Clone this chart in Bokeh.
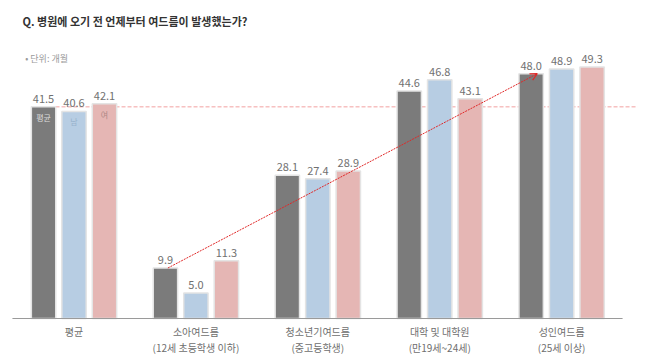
from bokeh.plotting import figure
from bokeh.models import ColumnDataSource, Label, Arrow, OpenHead
from bokeh.core.properties import value
from bokeh.embed import file_html
from bokeh.resources import INLINE

category_main = ["평균", "소아여드름", "청소년기여드름", "대학 및 대학원", "성인여드름"]
category_sub = ["", "(12세 초등학생 이하)", "(중고등학생)", "(만19세~24세)", "(25세 이상)"]
avg_vals = [41.5, 9.9, 28.1, 44.6, 48.0]
male_vals = [40.6, 5.0, 27.4, 46.8, 48.9]
female_vals = [42.1, 11.3, 28.9, 43.1, 49.3]
series_names = ["평균", "남", "여"]
overall_avg = 41.5

FONT = "Noto Sans CJK KR"
colors = ["#7b7b7b", "#b7cde3", "#e5b6b4"]
inner_colors = ["#dcdcdc", "#98b2cc", "#b08886"]

p = figure(width=650, height=357, output_backend="svg", toolbar_location=None,
           x_range=(-0.603, 4.729), y_range=(-39 / 5.1, 318 / 5.1),
           min_border_left=0, min_border_right=0, min_border_top=0, min_border_bottom=0)
p.outline_line_color = None
p.grid.visible = False
p.axis.visible = False
p.background_fill_color = "white"

xs_center = list(range(len(category_main)))
offsets = [-0.25, 0.0, 0.25]
series = [avg_vals, male_vals, female_vals]

# average reference dashed line
p.segment(x0=[-0.25], y0=[overall_avg], x1=[4.623], y1=[overall_avg],
          line_color="#f2a0a0", line_width=1, line_dash="4 2")

for vals, off, col in zip(series, offsets, colors):
    xs = [c + off for c in xs_center]
    src = ColumnDataSource(dict(x=xs, top=vals, lab=[f"{v:.1f}" for v in vals]))
    p.vbar(x="x", top="top", bottom=0, width=0.2, source=src,
           fill_color=col, line_color="#e4e4e4", line_width=1.5)
    p.text(x="x", y="top", text="lab", source=src, text_align="center",
           text_baseline="bottom", y_offset=-4, text_font=value(FONT),
           text_font_size="11px", text_color="#707070")

# series names inside first group bars
for name, vals, off, tc in zip(series_names, series, offsets, inner_colors):
    p.text(x=[xs_center[0] + off], y=[vals[0]], text=[name], text_align="center",
           text_baseline="top", y_offset=5, text_font=value(FONT),
           text_font_size="8px", text_color=tc)

# baseline
p.segment(x0=[-0.505], y0=[0], x1=[4.5], y1=[0], line_color="#9a9a9a", line_width=1)

# category labels (two lines)
p.text(x=xs_center, y=[0] * len(xs_center), text=category_main, text_align="center",
       text_baseline="middle", y_offset=13, text_font=value(FONT), text_font_size="10px",
       text_color="#6e6e6e")
p.text(x=xs_center, y=[0] * len(xs_center), text=category_sub, text_align="center",
       text_baseline="middle", y_offset=29, text_font=value(FONT), text_font_size="10px",
       text_color="#6e6e6e")

# trend arrow
p.add_layout(Arrow(end=OpenHead(size=7, line_color="#e02828", line_width=1.2),
                   x_start=xs_center[1] - 0.23, y_start=avg_vals[1],
                   x_end=xs_center[4] - 0.2, y_end=avg_vals[4],
                   line_color="#e02828", line_width=1, line_dash="2 1"))

# title and unit
p.add_layout(Label(x=-0.4225, y=(318 - 20) / 5.1, text="Q. 병원에 오기 전 언제부터 여드름이 발생했는가?",
                   text_font=FONT, text_font_size="11px", text_font_style="bold",
                   text_color="#333333", text_baseline="middle"))
p.add_layout(Label(x=-0.40, y=(318 - 58) / 5.1, text="• 단위: 개월",
                   text_font=FONT, text_font_size="9px",
                   text_color="#9a9a9a", text_baseline="middle"))

open("out.html", "w").write(file_html(p, INLINE))
